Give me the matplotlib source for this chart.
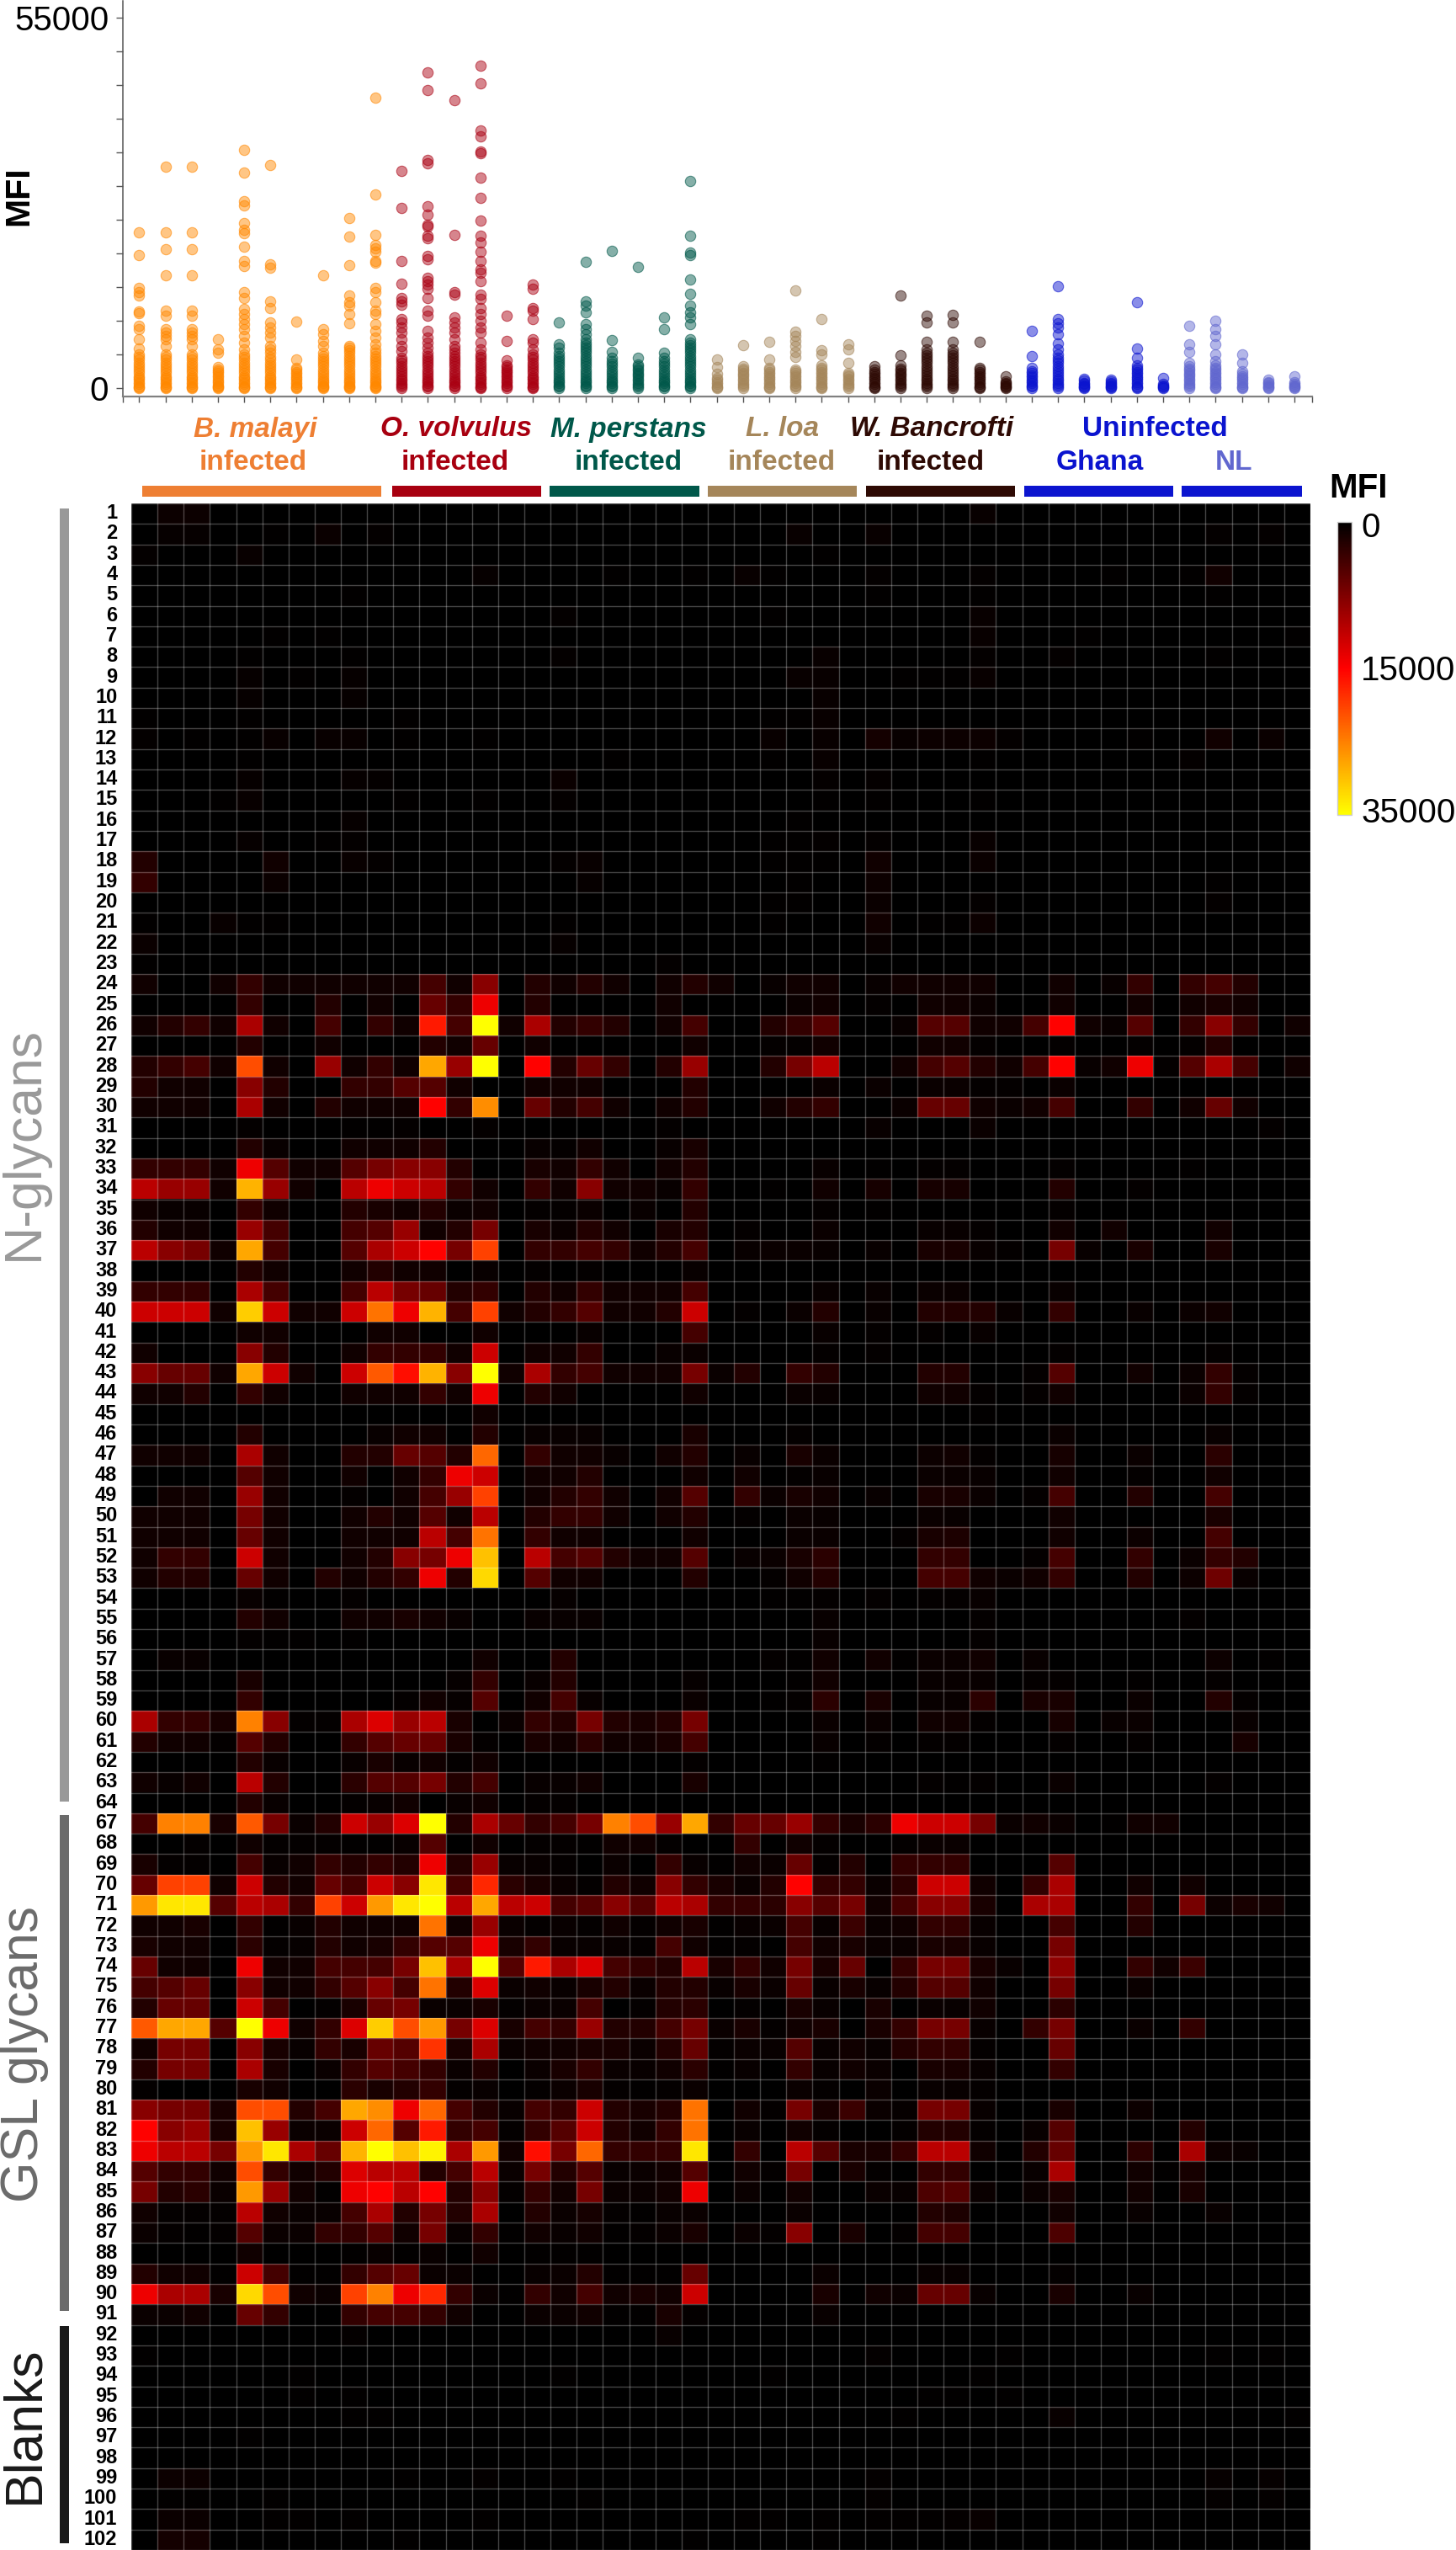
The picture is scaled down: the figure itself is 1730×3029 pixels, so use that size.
import matplotlib
matplotlib.use("Agg")
import matplotlib.pyplot as plt
import numpy as np
from matplotlib.colors import LinearSegmentedColormap, TwoSlopeNorm, to_rgba
from matplotlib.patches import Rectangle
from matplotlib.transforms import ScaledTranslation

plt.rcParams["font.family"] = ["Liberation Sans", "DejaVu Sans"]

W, H = 1731, 3029

# heatmap, MFI in thousands, one list per glycan, 45 sera (trailing zeros left out)
rows_24_to_53 = [
    [1,0,0,1,3,1,1,1,1,1,1,4,1,8,0,2,1,2,1,0,1,2,1,0, .5,1,1,0,.5,1,1,1,1,0,0,1,0,.5,3,0,3,4,2],
    [0,0,0,0,3,0,0,2,0,1,0,6,3,14,0,2,0,0,0,0,1,0,0,0, 0,.7,1,0,.3,0,1,1,.7,0,0,1,0,0,1,0,1,1.5,1],
    [1,2,3,1,10,1,0,4,0,3,1,17,4,35,1,10,2,3,2,0,1,4,0,0, 2,3,5,0,0,.5,5,5,1,1,4,15,1,.5,5,0,3,8,3,0,1],
    [0,0,0,0,2,0,0,1,0,0,0,2,1,6,0,1,0,0,0,0,0,1,0,0, .3,.3,1,0,0,0,1,1,.3,0,0,.3,0,0,.3,0,.3,2],
    [2,3,4,1,21,1,0,9,1,3,1,28,9,35,0,15,2,6,3,0,2,9,0,0, 2,7,11,0,0,1,4,5,2,1,4,15,.5,1,14,.3,5,10,4,0,1],
    [2,1,1,0,8,2,0,0,3,3,5,5,1,0,0,1,1,1,0,0,0,2,0,0, 0,0,.7,0,.7,0,.7,.7,.3,.3,0,.7],
    [1,1,1,0,10,1,0,2,1,1,1,15,3,26,0,6,2,4,1,0,1,2,0,0, 1,2,3,0,0,.7,6,6,1,.7,1,4,0,0,3,0,1,6,1],
    [0,0,0,0,.3,0,0,0,.2,.2,.3,0,0,.3,0,0,0,0,0,0,.3,0,0,0, 0,0,0,0,.5,0,0,0,.7,0,0,0,0,0,0,0,0,0,0,.3],
    [0,0,0,0,2,.5,0,0,1,1,1,2,0,0,0,.5,.3,1,0,0,.5,1.5],
    [3,3,3,1,14,5,1,1,5,7,8,8,2,0,0,1.5,1,3,1,0,1,2,0,0, 0,0,.5,0,.2,0,.3,.3,0,0,0,.3,0,0,0,0,.2],
    [11,9,9,1,29,9,1,0,11,14,12,11,3,1,0,3,1,8,1,1,.5,3,0,0, .2,0,1,0,1.3,0,1.3,1.3,0,0,0,2,0,0,.3],
    [1,.5,.5,0,3,1,0,0,2,1.5,1,2,.7,1,0,.3,.3,.7,0,.5,0,2,0,0, 0,0,.3,0,.2,0,0,0,0,0,0,.3],
    [2,1,1,0,9,4,0,0,4,5,9,1,2,7,0,1.5,.7,2,1,0,1.5,2,0,.3, 0,0,.7,0,0,0,.5,.5,.3,0,0,1,0,1,0,0,0,1],
    [11,8,7,1,28,4,0,0,5,10,12,15,7,20,0,3,3,4,3,1,2,4,0,.5, .7,.7,.5,0,.5,0,1.5,1.5,.5,.3,0,7,.5,0,1.5,0,0,1.5],
    [0,0,0,0,2,1,0,0,1,2,1,1,0,.5,0,.3,0,.3,0,0,0,.5],
    [3,3,3,0,10,4,0,0,4,11,7,6,2,3,0,2,1,3,1,1,1,4,0,0, 0,0,.5,0,.5,0,.7,.7,0,0,0,.5],
    [12,12,12,1,31,12,1,1,12,24,14,29,4,20,1,2,3,5,1,1,2,12,0,.3, 0,.7,2,0,.5,0,2,2,2,.5,0,3,0,0,.5,0,.7,1],
    [0,0,0,0,1,1,0,0,0,1,1,0,0,1,0,0,0,.5,0,0,0,4,0,0, 0,0,.5,0,.3,0,.3,0,.5],
    [1,0,0,0,8,2,0,0,1,3,3,3,1,12,0,1,1,3,0,0,.5,.7,0,0, 0,0,.3,0,.3,0,0,0,0,0,0,.3,0,0,0,0,0,.3],
    [8,6,6,1,28,12,1,0,12,22,16,29,8,35,1,10,3,4,1,1,1,7,.7,2, 0,3,2,0,0,0,2,2,0,0,.3,5,0,0,1,0,.7,3,.3],
    [1,1,2,0,3,1,0,0,1,1,1,3,1,14,0,2,1,0,0,0,0,1,0,0, 0,.7,.5,0,0,0,1,1,.3,0,.3,1,0,0,0,0,.7,3,.3],
    [0,0,0,0,0,0,0,0,0,0,0,0,0,1,0,0,0,0,0,0,0,0,0,0, 0,0,0,0,0,0,0,0,.2],
    [0,0,0,0,2,0,0,0,0,.5,1,1,0,2,0,.5,.5,.5,0,0,0,1.5,0,0, 0,.3,0,0,0,0,0,0,0,0,0,.7,0,0,0,0,0,.5],
    [1,1,1,0,10,1,0,0,2,2,6,5,2,23,0,3,1,1,.5,0,1,2,0,.5, 0,1.5,.7,0,0,0,.8,1,.3,0,0,1.3,0,0,.7,0,0,2.5],
    [0,0,0,0,5,1,0,0,1,0,1,3,14,12,0,1,1,2,0,0,0,1,0,1, 0,.3,.5,0,0,0,.7,.7,.5,0,0,1,0,0,.3,0,0,1],
    [0,1,1,0,9,1,0,0,.3,0,1,4,9,20,0,1,2,3,1,0,1,5,0,3, .7,1.5,1,0,.5,0,1.5,1.5,.7,0,.3,4,0,0,2,0,0,4],
    [1,1,1,0,7,1,0,0,1,2,1,5,1,11,0,2,3,3,1,0,1,2,0,.3, 0,.7,.5,0,0,0,.7,.5,0,0,0,1,0,0,0,0,0,1.5],
    [1,1,1,0,6,1,0,0,1,1,1,11,4,24,0,3,1,1,0,0,0,1,0,0, 0,.7,.7,0,0,.3,1.5,1.7,0,0,0,1,0,0,.8,0,0,4],
    [1,3,3,0,12,1,0,0,1,2,8,7,14,30,0,11,4,5,2,1,1,5,0,.5, .7,1.5,2.5,0,0,0,3,3,0,0,.3,4,0,0,3,0,.7,3,2],
    [1,2,2,0,6,1,0,2,1,2,3,14,2,32,0,5,1,1,0,0,0,2,0,0, .3,1,2,0,0,0,4,4,1,.7,1,3,0,0,2,0,.8,6.5,.5],
]
rows_60_to_64 = [
    [10,3,3,1.5,25,8,.3,.3,10,13,9,11,1.5,0,.7,3,2,7,2,1.5,2,7,0,0, 0,0,.7,0,.7,0,1,1,.3,0,0,1.3,0,.5,.7,0,0,0,.5],
    [2,1,1,.3,5,2,0,0,3,5,6,6,1.5,.3,0,1.5,1,2.5,1,1,1.5,4,0,0, 0,0,.5,0,.3,0,.3,.3,0,0,0,.3,0,0,.3,0,0,0,1.3],
    [0,0,0,0,2,.5,0,0,.5,1.5,.5,1,.3,1,0,0,0,0,0,0,0,.3,0,0, 0,0,.2],
    [1,.5,1,0,11,2,0,0,2.5,5,5,7,2,4,0,.5,.5,1,0,0,0,1.5,0,0, 0,0,0,0,0,0,.3,.2,.3,0,0,.7,0,0,0,0,0,.3],
    [0,0,0,0,2,.5,0,0,.3,.5,1,0,.5,1,0,.3,.3],
]
rows_67_to_91 = [
    [4,25,25,1.5,22,7,.7,2,12,9,13,35,2,10,6,3,4,7,25,21,9,28,3,6, 6,9,3,1.5,2.5,14,12,12,7,.7,1,.7,0,.2,1,1],
    [0,0,.3,0,1,.3,.3,.3,.2,.2,.5,5,0,1,0,.3,.3,.2,1,1,.3,0,0,3, 0,1,.3,0,0,.3,.7,.7],
    [1.5,.3,.3,0,4,.5,1,3,2,3,2,14,2,9,.5,.5,.3,0,.7,0,3,.5,.2,1, .7,6,.3,2,0,3,3,3,0,0,0,5],
    [6,20,20,1,12,2,1,6,4,12,8,33,4,18,2.5,1.5,.7,.3,2,1,8,3,1.5,.7, 2,15,3,3,.7,2.5,12,12,1,0,3,10,0,0,1,0,1],
    [27,33,33,5,11,10,3,20,12,27,33,35,11,28,11,12,4,5,8,5,11,10,3,3, 2.5,8,5,7,1,4,8,8,1.5,0,10,10,0,0,3,0,7,.8,1.5,1],
    [1,1,1.5,0,3,.2,.5,2,1,1,1,24,1,9,.7,.3,.5,.3,1,.3,1,1.5,.2,.5, .7,4,.5,3.5,.7,1,3,3,.5,0,0,4,0,0,2],
    [1.5,1,1,0,2.5,.3,.4,2,1,1.5,3,5,5,14,1.5,3,.5,.5,.5,.3,4,1,.2,.3, 0,4,1,1.5,.7,.7,1.5,1.5,.5,0,0,7],
    [6,1,1,0,14,1,1,4,4,4,7,30,10,35,5,17,10,13,4,3,2,11,1.5,3, 1,7,1.5,6,0,3,7,7,1.5,.5,0,8.5,0,0,3,1,3.5],
    [4,5,6,0,8,1,1,3,5,8,4,24,2,13,.7,1,.5,1.5,2,.7,2,2,.5,1.5, .7,6,.5,1.5,.5,2,5,5,1,0,0,7,0,0,.7],
    [2,6,6,0,12,4,0,.3,1.5,6,7,.7,.7,1.5,.3,.7,.7,4,0,.3,2,2.5,0,.3, 0,1.5,.5,0,1.5,0,.7,.5,1,0,0,2.5],
    [22,28,28,5,35,14,1,3,13,31,21,27,7,13,1.5,4,3,9,2,2,4,7,.7,1.5, .3,1,1.5,0,1.5,3,7,7,.5,0,3,7,0,0,.7,0,3],
    [1,7,7,0,8,1.5,.5,3,1.5,6,5,19,1.5,10,.7,1,1,1.5,1.5,.7,2,6,.3,.7, .5,5,.5,1,.5,2,3,3,.3,0,0,6],
    [2,7,7,0,10,1.5,0,.7,3,5,4,3,.7,2,0,.7,1.5,3,.7,.5,1,2.5,.2,.5, 0,3,.5,1,.7,0,1.5,1.5,.5,0,0,3],
    [.3,0,0,0,1.5,1,0,0,2.5,1.5,2,3,.3,.5,0,.3,.7,1.5,.3,.2,.3,.7,0,0, 0,.7,.3,0,.7,0,.5,.5,.3],
    [8,7,7,1.5,21,21,2,4,28,26,14,23,4,2,.5,4,3,12,2,1.5,2,24,0,1, .3,7,1.5,3.5,.7,.4,7,7,.5,0,0,1.5,0,0,.8],
    [15,8,9,1.5,30,9,.7,.7,12,23,5,17,3,4,.3,3,5,12,2,1,3,24,0,.5, 0,1,.3,0,0,.3,2,2,.3,0,.5,5,0,0,0,0,2],
    [14,11,11,7,27,33,10,6,29,35,30,34,10,27,1,16,7,23,3,3,3,33,0,3, 0,11,5,1.5,1.5,3,11,11,1,0,2,6,0,0,2.5,0,10,.8,.5],
    [5,3,3,1,21,3,1,2,13,11,11,2,4,11,.7,7,2,5,.5,.7,1,5,0,1, .3,7,0,1.5,.3,0,3,3,0,0,.5,10,0,0,1,.2,1.3],
    [7,2,2.5,.7,27,9,1,.2,14,15,11,15,2,8,.3,3,1,7,.7,.7,1,14,0,.7, 0,1,0,0,.7,.5,4.5,5,.7,0,.7,1.5,0,0,1,0,1.5],
    [1,.3,.3,.3,11,1,.5,.5,4,10,2,7,2,10,0,2,.7,1.3,.3,.2,.5,.7,0,0, 0,.7,0,0,0,0,2,1.7,0,0,0,1,0,0,.5,0,0,.5],
    [.7,.3,.2,.3,5,.7,.7,3,3,5,1,7,.5,3,.2,1,.5,1,.2,.3,.7,1.5,0,.7, .3,8,0,1.5,0,.3,4,4,0,0,0,4.5],
    [0,0,0,0,1,0,0,0,.2,.5,.2,.5,0,1,0,.2,.2,.2],
    [2,1,1,.2,12,4,.2,.2,3,5,6,.7,.7,0,0,.5,.7,2,.2,.2,.2,6,0,0, 0,0,.7,0,0,0,.5,.5,0,0,0,.3],
    [14,10,10,1.5,32,21,1,.7,20,25,14,18,3,.7,.2,3,1,4,1,1.5,1,12,0,0, 0,0,1.5,0,1,.7,6,6,.5,0,0,1.5,0,0,.5],
    [.7,.7,1,0,6,3,0,0,3,4,4,3,1,0,0,.7,.7,1,.2,.2,1.5,.3,0,0, 0,0,.5],
]
# the nearly black rows: glycan number -> {serum index: MFI in thousands}
faint_rows = {
    1: {1: .8, 2: .8, 32: .5},
    2: {1: .4, 2: .4, 5: .2, 7: .6, 9: .3, 25: .5, 28: .5, 41: .3, 43: .3},
    3: {0: .3, 4: .5, 26: .2},
    4: {13: .4, 18: .2, 21: .2, 23: .5, 24: .2, 28: .3, 32: .3, 37: .2, 40: .2, 41: 1},
    5: {8: .2, 28: .2, 32: .2, 41: .2},
    6: {4: .1, 16: .3, 24: .2, 32: .5},
    7: {5: .2, 7: .2, 32: .5, 36: .2, 44: .2},
    8: {4: .2, 8: .2, 16: .3, 26: .5, 32: .3, 35: .3, 41: .2},
    9: {4: .4, 6: .2, 8: .4, 25: .5, 26: .5, 29: .2, 30: .2, 31: .2, 32: .5},
    10: {4: .4, 8: .4, 26: .5},
    11: {0: .2, 4: .2, 10: .2, 24: .2, 25: .2, 26: .5},
    12: {0: .3, 2: .2, 4: .2, 5: .5, 7: .5, 8: .5, 10: .2, 13: .2, 24: .5, 26: .5, 28: 1.2, 29: .5,
         30: .8, 31: .8, 32: .8, 33: .3, 38: .2, 41: 1, 43: .7},
    13: {4: .2, 18: .2, 24: .2, 26: .5, 32: .2, 40: .3},
    14: {4: .4, 8: .4, 9: .3, 16: .6, 26: .3, 28: .3},
    15: {3: .2, 4: .5, 10: .2, 13: .2, 16: .3, 26: .2, 28: .2, 32: .2},
    16: {8: .4, 25: .2, 30: .1},
    17: {4: .4, 7: .2, 8: .3, 24: .2, 25: .2, 26: .3, 28: .3, 32: .5},
    18: {0: 2, 5: 1, 8: .5, 9: .3, 16: .3, 17: .5, 24: .2, 25: .2, 26: .2, 28: 1, 32: .7},
    19: {0: 3, 5: .7, 17: .4, 25: .2, 28: .8, 41: .2},
    20: {24: .2, 25: .2, 28: .7, 32: .3, 41: .3},
    21: {0: .2, 3: .5, 4: .2, 5: .2, 16: .2, 24: .2, 28: 1, 30: .2, 31: .2, 32: .8},
    22: {0: .7, 16: .4, 28: .5},
    23: {0: .2, 20: .3},
    54: {4: .5, 5: .2, 8: .3, 16: .4, 24: .2, 25: .2, 26: .3, 28: .3, 30: .3, 31: .3, 32: .5},
    55: {4: 2, 5: 1, 8: 1, 9: 1, 10: 1.5, 11: 1, 12: .5, 15: .5, 16: .5, 17: .5, 26: .5, 32: .3, 40: .3},
    56: {4: .3, 5: .2, 6: .2, 8: .2, 26: .5, 32: .3},
    57: {1: .5, 2: .5, 13: 1, 16: 2, 24: .3, 25: .2, 26: 1, 28: 1, 29: .2, 30: .7, 31: .7, 32: 1,
         34: .5, 41: .8, 43: .2},
    58: {4: 1.5, 12: .4, 13: 3, 15: .5, 16: 2, 21: .4, 25: .2, 26: 1, 30: .5, 31: .5, 32: .5, 34: .3,
         35: .3, 38: .2, 41: .3},
    59: {4: 3, 10: .3, 11: 1, 12: .4, 13: 5, 15: 1, 16: 4, 17: .5, 21: .7, 24: .2, 25: .3, 26: 2.5,
         28: 1.5, 30: .5, 31: .5, 32: 2.5, 34: 1.5, 35: 1.5, 38: .7, 41: 2, 42: .3},
    92: {8: .3, 20: .5},
    93: {0: .2, 28: .3, 33: .2, 41: .2, 43: .2},
    94: {6: .2, 16: .2, 24: .2, 32: .2},
    95: {5: .1, 6: .2, 8: .2, 9: .1, 30: .2, 31: .2, 33: .2},
    96: {8: .2, 9: .2, 29: .2, 35: .5, 44: .2},
    97: {4: .2},
    98: {1: .1, 2: .1},
    99: {1: .8, 2: .8, 10: .2, 13: .3, 16: .2, 25: .1, 28: .3, 29: .1, 41: .4, 42: .1, 43: .4, 44: .1},
    100: {1: .2, 2: .2, 5: .2, 17: .2, 28: .3, 41: .3, 43: .3},
    101: {1: .7, 2: .7, 5: .2, 6: .2, 8: .2, 13: .2, 23: .2, 24: .2, 26: .2, 28: .2, 29: .2, 30: .2,
          31: .3, 32: .5},
    102: {1: 1.2, 2: 1.2, 10: .2, 21: .2, 22: .1, 24: .1, 26: .2, 29: .1},
}
glycan_numbers = list(range(1, 65)) + list(range(67, 103))

# dot strip above the heatmap, MFI in thousands per serum
malayi_sera = [
    [23.1,19.7,14.9,14.2,13.7,11.4,11.1,9.2,8.7,7.3,5.9,5,4.6,4.2,3.8,3.4,3,2.6,2.2,1.8,1.5,1.2,.9,.6,.3,.1,0],
    [32.9,23.1,20.6,16.8,11.5,10.7,8.7,8.2,7.7,7.3,6.3,5,4.6,4.2,3.8,3.4,3,2.6,2.2,1.8,1.5,1.2,.9,.6,.3,.1,0],
    [32.9,23.1,20.6,16.8,11.5,10.7,8.7,8.2,7.7,7.3,6.3,5,4.6,4.2,3.8,3.4,3,2.6,2.2,1.8,1.5,1.2,.9,.6,.3,.1,0],
    [7.3,5.7,5.3,3.1,2.8,2.5,2.2,1.9,1.6,1.3,1,.7,.4,.2,.1,0],
    [35.4,32,27.7,27.1,24.5,23.5,23,21,18.9,18.1,14.2,13.4,11.7,11,10.2,9.5,8.7,7.7,6.8,5.8,5,4.6,4.2,3.8,3.4,3,
     2.6,2.2,1.8,1.5,1.2,.9,.6,.3,.1,0],
    [33.1,18.4,17.9,12.9,11.9,9.7,9,8.2,7.5,6.3,5.8,5.3,4.6,4.2,3.8,3.4,3,2.6,2.2,1.8,1.5,1.2,.9,.6,.3,.1,0],
    [9.9,4.3,3,2.7,2.4,2.1,1.8,1.5,1.2,.9,.6,.3,.1,0],
    [16.7,8.7,8,7,6.3,5.3,4.8,4.4,4,3.6,3.2,2.8,2.4,2,1.6,1.3,1,.7,.4,.2,.1,0],
    [25.2,22.5,18.3,13.7,12.7,12.2,11,9.6,6.3,6,5.6,5.2,4.8,4.4,4,3.6,3.2,2.8,2.4,2,1.6,1.3,1,.7,.4,.2,.1,0],
    [43.1,28.7,22.8,21.2,20.8,20.3,18.9,18.6,14.9,14.2,12.7,11.5,11,9.5,8.5,7.5,6.5,5.8,5.2,4.8,4.4,4,3.6,3.2,2.8,
     2.4,2,1.6,1.3,1,.7,.4,.2,.1,0],
]
volvulus_sera = [
    [32.2,26.7,18.9,15.5,13.4,12.9,12.4,10.2,9.7,9,8.2,7.3,6.3,5.5,4.5,4.1,3.7,3.3,2.9,2.5,2.1,1.7,1.4,1.1,.8,.5,.2,0],
    [46.9,44.2,33.9,33.4,27,25.8,24.3,24,22.6,22.2,19.6,19.1,16.4,15.9,15.4,14.7,13.4,11.5,10.7,8.5,7.5,6.8,6,5.3,4.8,
     4.4,4,3.6,3.2,2.8,2.4,2,1.6,1.3,1,.7,.4,.2,0],
    [42.8,22.7,14.3,13.9,10.5,9.7,9,8.2,7.3,6.3,5.8,5.2,4.8,4.4,4,3.6,3.2,2.8,2.4,2,1.6,1.3,1,.7,.4,.2,0],
    [47.9,45.2,38.3,37.4,35.1,34.9,31.3,28.3,24.9,22.6,21.6,20.3,18.9,17.6,17.1,15.9,13.9,13.2,11.9,11,10,9,8.2,6.8,
     5.8,5,4.6,4.2,3.8,3.4,3,2.6,2.2,1.8,1.5,1.2,.9,.6,.3,.1,0],
    [10.7,7,4.1,3.4,3.1,2.8,2.5,2.2,1.9,1.6,1.3,1,.7,.4,.2,0],
    [15.4,14.8,11.9,11.5,10.2,7.3,6.8,5.8,5,4.6,4.2,3.8,3.4,3,2.6,2.2,1.8,1.5,1.2,.9,.6,.3,.1,0],
]
perstans_sera = [
    [9.8,6.5,6,5.3,4.8,4.4,4,3.6,3.2,2.8,2.4,2,1.6,1.3,1,.7,.4,.2,0],
    [18.8,12.9,12.2,11.3,9.5,8.7,8,7.3,6.8,6.4,6,5.6,5.2,4.8,4.4,4,3.6,3.2,2.8,2.4,2,1.6,1.3,1,.7,.4,.2,0],
    [20.4,7.1,5.4,4.5,4,3.6,3.2,2.8,2.4,2,1.6,1.3,1,.7,.4,.2,0],
    [18,4.5,3.5,3.2,2.9,2.6,2.3,2,1.7,1.4,1.1,.8,.5,.2,0],
    [10.5,8.7,5.3,4.5,4,3.6,3.2,2.8,2.4,2,1.6,1.3,1,.7,.4,.2,0],
    [30.7,22.6,20.1,19.7,16.1,14,12.2,11.2,10.5,9.5,7.3,6.8,6.4,6,5.6,5.2,4.8,4.4,4,3.6,3.2,2.8,2.4,2,1.6,1.3,1,.7,.4,.2,0],
]
loa_sera = [
    [4.2,3.1,2.1,1.5,1.2,.9,.6,.3,.1,0],
    [6.4,3.3,2.9,2.6,2.3,2,1.7,1.4,1.1,.8,.5,.2,0],
    [6.9,4.2,3,2.7,2.4,2.1,1.8,1.5,1.2,.9,.6,.3,.1,0],
    [14.5,8.4,7.8,7,6.2,5.4,4.6,2.8,2.5,2.2,1.9,1.6,1.3,1,.7,.4,.2,0],
    [10.2,5.6,5,3.4,3,2.7,2.4,2.1,1.8,1.5,1.2,.9,.6,.3,.1,0],
    [6.5,5.7,3.8,2.3,2,1.7,1.4,1.1,.8,.5,.2,0],
]
bancrofti_sera = [
    [3.3,2.8,2.4,2.1,1.8,1.5,1.2,.9,.6,.3,.1,0],
    [13.7,4.9,3.4,2.9,2.6,2.3,2,1.7,1.4,1.1,.8,.5,.2,0],
    [10.8,9.7,6.9,5.8,5.3,4.9,4.5,4.1,3.7,3.3,2.9,2.5,2.1,1.7,1.4,1.1,.8,.5,.2,0],
    [10.9,9.7,6.9,5.8,5.3,4.9,4.5,4.1,3.7,3.3,2.9,2.5,2.1,1.7,1.4,1.1,.8,.5,.2,0],
    [6.9,3,2.7,2.4,2.1,1.8,1.5,1.2,.9,.6,.3,.1,0],
    [1.7,1,.8,.6,.4,.2,.1,0],
]
ghana_sera = [
    [8.5,4.7,3,2.5,2.2,1.9,1.6,1.3,1,.7,.4,.2,0],
    [15.1,10.2,9.6,9,8,6.6,5.8,5,4.5,4.1,3.7,3.3,2.9,2.5,2.1,1.7,1.4,1.1,.8,.5,.2,0],
    [1.4,1.1,.8,.6,.4,.2,.1,0],
    [1.3,1,.8,.6,.4,.2,.1,0],
    [12.8,5.9,4.5,3.4,3,2.7,2.4,2.1,1.8,1.5,1.2,.9,.6,.3,.1,0],
    [1.5,.6,.4,.2,.1,0],
]
nl_sera = [
    [9.3,6.5,5.4,3.8,3.2,2.9,2.6,2.3,2,1.7,1.4,1.1,.8,.5,.2,0],
    [10,8.8,7.7,6.5,5,4,3.4,3,2.7,2.4,2.1,1.8,1.5,1.2,.9,.6,.3,.1,0],
    [5,3.7,2.5,2.1,1.8,1.5,1.2,.9,.6,.3,.1,0],
    [1.2,.9,.7,.5,.3,.1,0],
    [1.8,.9,.6,.4,.2,.1,0],
]
strip_groups = [malayi_sera, volvulus_sera, perstans_sera, loa_sera, bancrofti_sera, ghana_sera, nl_sera]
strip_colors = ["#ff8800", "#aa0012", "#00584a", "#a5865a", "#2e0a04", "#0b14cf", "#6167cf"]

group_names = ["B. malayi", "O. volvulus", "M. perstans", "L. loa", "W. Bancrofti", "Uninfected"]
group_name_colors = ["#ee7f33", "#a80010", "#00584a", "#a5865a", "#2e0a04", "#0b14cf"]
group_name_x = [303, 542, 747, 930, 1107, 1372]
second_lines = ["infected", "infected", "infected", "infected", "infected", "Ghana", "NL"]
second_line_colors = ["#ee7f33", "#a80010", "#00584a", "#a5865a", "#2e0a04", "#0b14cf", "#6167cf"]
second_line_x = [301, 541, 747, 929, 1106, 1307, 1466]
group_bar_spans = [(169, 453), (466, 643), (653, 831), (841, 1018), (1029, 1206), (1217, 1394), (1404, 1547)]
group_bar_colors = ["#ee7f33", "#a80010", "#00584a", "#a5865a", "#2e0a04", "#0b14cf", "#0b14cf"]

side_names = ["N-glycans", "GSL glycans", "Blanks"]
side_colors = ["#999999", "#6b6b6b", "#1a1a1a"]
side_spans = [(604, 2140), (2156, 2745), (2763, 3021)]
side_name_y = [1358, 2440, 2880]


def add_px_axes(fig, left, top, right, bottom):
    return fig.add_axes([left / W, 1 - bottom / H, (right - left) / W, (bottom - top) / H])


fig = plt.figure(figsize=(W / 100, H / 100), dpi=100)

# heatmap matrix
mfi = np.zeros((len(glycan_numbers), 45))
full_rows = dict(zip(list(range(24, 54)) + list(range(60, 65)) + list(range(67, 92)),
                     rows_24_to_53 + rows_60_to_64 + rows_67_to_91))
for number, values in full_rows.items():
    mfi[glycan_numbers.index(number), :len(values)] = values
for number, cells in faint_rows.items():
    for serum, value in cells.items():
        mfi[glycan_numbers.index(number), serum] = value

cmap = LinearSegmentedColormap.from_list("mfi", ["#000000", "#ff0000", "#ffff00"])
norm = TwoSlopeNorm(vmin=0, vcenter=15, vmax=35)

ax = add_px_axes(fig, 156, 598, 1557, 3029)
im = ax.imshow(mfi, cmap=cmap, norm=norm, aspect="auto", interpolation="nearest")
ax.set_xticks([])
ax.set_yticks(range(len(glycan_numbers)))
ax.set_yticklabels(glycan_numbers, fontsize=17, fontweight="bold")
ax.tick_params(axis="y", length=0, pad=12)
# the numbers sit a little above the row centres
lift = ScaledTranslation(0, 3 / 100, fig.dpi_scale_trans)
for label in ax.get_yticklabels():
    label.set_transform(label.get_transform() + lift)
ax.set_xticks(np.arange(-.5, 45), minor=True)
ax.set_yticks(np.arange(-.5, len(glycan_numbers)), minor=True)
ax.tick_params(which="minor", length=0)
ax.grid(which="minor", color="white", alpha=.27, linewidth=1)
for spine in ax.spines.values():
    spine.set_visible(False)

# dot strip
ax_top = add_px_axes(fig, 146, 1.2, 1559.5, 470.5)
ax_top.patch.set_alpha(0)
serum = 0
for sera, color in zip(strip_groups, strip_colors):
    for values in sera:
        ax_top.scatter([serum] * len(values), np.array(values) * 1000, s=80,
                       facecolors=[to_rgba(color, .48)], edgecolors=[to_rgba(color, .58)],
                       linewidths=.8, clip_on=False)
        serum += 1
ax_top.set_xlim(-.619, 44.69)
ax_top.set_ylim(-1187, 57475)
ax_top.set_yticks(range(0, 55001, 5000))
ax_top.set_yticklabels(["0"] + [""] * 10 + ["55000"], fontsize=29)
ax_top.set_xticks([-.619] + list(range(45)) + [44.69])
ax_top.set_xticklabels([])
ax_top.tick_params(axis="y", length=6, width=1, color="#555555", pad=6)
ax_top.tick_params(axis="x", length=5, width=1, color="#555555")
ax_top.spines["top"].set_visible(False)
ax_top.spines["right"].set_visible(False)
ax_top.spines["left"].set_color("#555555")
ax_top.spines["left"].set_linewidth(1.1)
ax_top.spines["bottom"].set_color("#808080")
ax_top.spines["bottom"].set_linewidth(1.6)

fig.text(33 / W, 1 - 233 / H, "MFI", fontsize=29.5, fontweight="bold", rotation=90,
         ha="center", va="baseline", rotation_mode="anchor")

# group names and bars
for name, color, x in zip(group_names, group_name_colors, group_name_x):
    style = "normal" if name == "Uninfected" else "italic"
    fig.text(x / W, 1 - 510 / H, name, fontsize=24, fontweight="bold", fontstyle=style,
             color=color, ha="center", va="center")
for name, color, x in zip(second_lines, second_line_colors, second_line_x):
    fig.text(x / W, 1 - 549 / H, name, fontsize=24, fontweight="bold", color=color,
             ha="center", va="center")
for (x0, x1), color in zip(group_bar_spans, group_bar_colors):
    fig.add_artist(Rectangle((x0 / W, 1 - 590 / H), (x1 - x0) / W, 13 / H, color=color, linewidth=0))

# side bars and names
for name, color, (y0, y1), y in zip(side_names, side_colors, side_spans, side_name_y):
    fig.add_artist(Rectangle((71 / W, 1 - y1 / H), 11 / W, (y1 - y0) / H, color=color, linewidth=0))
    fig.text(45 / W, 1 - y / H, name, fontsize=45, color=color, rotation=90,
             ha="center", va="baseline", rotation_mode="anchor")

# colour bar
cax = add_px_axes(fig, 1589, 620, 1606, 968)
cbar = fig.colorbar(im, cax=cax)
cbar.set_ticks([0, 15, 35])
cbar.set_ticklabels(["0", "15000", "35000"], fontsize=29)
cbar.ax.tick_params(length=0, pad=8)
cbar.ax.invert_yaxis()
cbar_shifts = [-3, 1, 6]
for label, shift in zip(cbar.ax.get_yticklabels(), cbar_shifts):
    label.set_transform(label.get_transform() + ScaledTranslation(0, shift / 100, fig.dpi_scale_trans))
cbar.outline.set_edgecolor("#cccccc")
cbar.outline.set_linewidth(1)
fig.text(1614 / W, 1 - 580 / H, "MFI", fontsize=29, fontweight="bold", ha="center", va="center")

fig.savefig("out.png", dpi=100)
